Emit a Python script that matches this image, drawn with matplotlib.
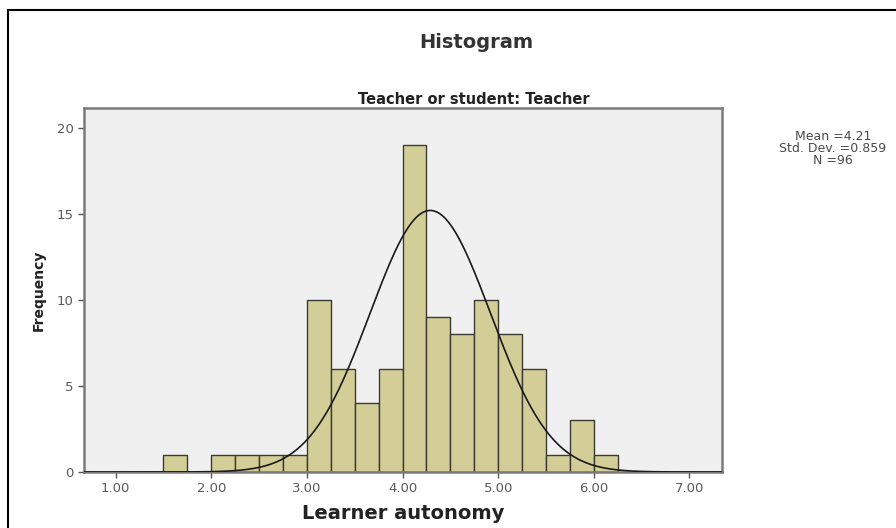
import numpy as np
import matplotlib
matplotlib.use("Agg")
import matplotlib.pyplot as plt
from matplotlib.patches import Rectangle

plt.rcParams['font.family'] = ['DejaVu Sans']

# Data
bin_left_edges = [1.50, 1.75, 2.00, 2.25, 2.50, 2.75, 3.00, 3.25, 3.50, 3.75,
                  4.00, 4.25, 4.50, 4.75, 5.00, 5.25, 5.50, 5.75, 6.00]
frequencies = [1, 0, 1, 1, 1, 1, 10, 6, 4, 6,
               19, 9, 8, 10, 8, 6, 1, 3, 1]
bin_width = 0.25
x_ticks = [1, 2, 3, 4, 5, 6, 7]
x_tick_labels = ["1.00", "2.00", "3.00", "4.00", "5.00", "6.00", "7.00"]
y_ticks = [0, 5, 10, 15, 20]
stats_text = "Mean =4.21\nStd. Dev. =0.859\nN =96"
# normal curve as drawn in the reference
curve_mean = 4.29
curve_sd = 0.63
curve_n = 96

fig = plt.figure(figsize=(8.96, 5.28), dpi=100)
ax = fig.add_axes([84/896, 1-472/528, (722-84)/896, (472-108)/528])
ax.set_facecolor('#f0f0f0')

ax.bar(bin_left_edges, frequencies, width=bin_width, align='edge',
       color='#d3ce97', edgecolor='#3a3a32', linewidth=1.0, zorder=2)

xs = np.linspace(0.67, 7.34, 600)
ys = curve_n * bin_width / (curve_sd * np.sqrt(2*np.pi)) * np.exp(-0.5*((xs-curve_mean)/curve_sd)**2)
ax.plot(xs, ys, color='#1a1a1a', linewidth=1.2, zorder=3)

ax.set_xlim(0.67, 7.34)
ax.set_ylim(0, 21.15)
ax.set_xticks(x_ticks)
ax.set_xticklabels(x_tick_labels)
ax.set_yticks(y_ticks)
ax.tick_params(axis='both', direction='out', length=4, width=1, color='#555555',
               labelsize=9.5, labelcolor='#5a5a5a')
for s in ax.spines.values():
    s.set_color('#7a7a7a')
    s.set_linewidth(1.8)

ax.set_xlabel('Learner autonomy', fontsize=14, fontweight='bold', color='#222222', labelpad=6)
ax.set_ylabel('Frequency', fontsize=10, fontweight='bold', color='#222222', labelpad=8)

fig.text(476/896, 1-42/528, 'Histogram', ha='center', va='center', fontsize=14,
         fontweight='bold', color='#333333')
fig.text(474/896, 1-99/528, 'Teacher or student: Teacher', ha='center', va='center',
         fontsize=10.5, fontweight='bold', color='#222222')
fig.text(833/896, 1-148/528, stats_text, ha='center', va='center', fontsize=9,
         color='#4a4a4a', linespacing=0.9)

# outer frame (left and top edges visible)
frame = Rectangle((8/896, -0.1), 1.2, 1-10/528+0.1, transform=fig.transFigure,
                  fill=False, edgecolor='black', linewidth=1.5)
fig.add_artist(frame)

fig.savefig('out.png', dpi=100)
